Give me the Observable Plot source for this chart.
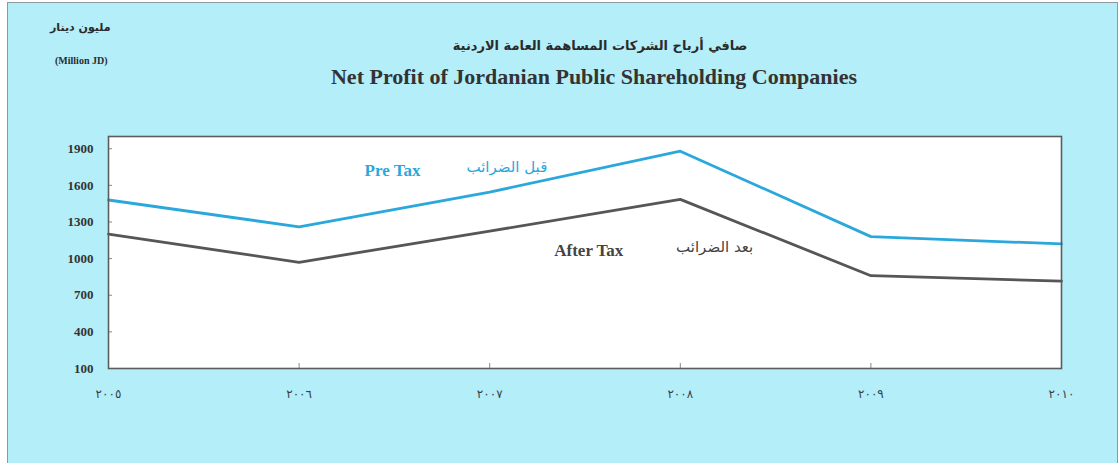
<!DOCTYPE html>
<html>
<head>
<meta charset="utf-8">
<script src="https://cdn.jsdelivr.net/npm/d3@7"></script>
<script src="https://cdn.jsdelivr.net/npm/@observablehq/plot@0.6"></script>
<style>
  html, body { margin: 0; padding: 0; background: #ffffff; overflow: hidden; }
  #wrap { position: relative; width: 1120px; height: 463px; overflow: hidden; }
  #panel { position: absolute; left: 7px; top: 2px; width: 1109px; height: 480px; background: #b4eef9; border: 1px solid #8c9a9e; }
  #chart { position: absolute; left: 0; top: 0; }
  .t { position: absolute; white-space: nowrap; color: #2b2b2b; }
  #unitAr { left: 50px; top: 21px; font: bold 11px "DejaVu Sans", sans-serif; direction: rtl; }
  #unitEn { left: 55px; top: 55px; font: bold 10px "Liberation Serif", serif; }
  #titleAr { left: 0; width: 1200px; text-align: center; top: 38px; font: bold 13px "DejaVu Sans", sans-serif; direction: rtl; }
  #titleEn { left: 0; width: 1188px; text-align: center; top: 64px; font: bold 22px "Liberation Serif", serif; color: #333; }
</style>
</head>
<body>
<div id="wrap">
  <div id="panel"></div>
  <div id="chart"></div>
  <div class="t" id="unitAr">مليون دينار</div>
  <div class="t" id="unitEn">(Million JD)</div>
  <div class="t" id="titleAr">صافي أرباح الشركات المساهمة العامة الاردنية</div>
  <div class="t" id="titleEn">Net Profit of Jordanian Public Shareholding Companies</div>
</div>
<script>
// Data
const years = [2005, 2006, 2007, 2008, 2009, 2010];
const yearLabels = ["٢٠٠٥", "٢٠٠٦", "٢٠٠٧", "٢٠٠٨", "٢٠٠٩", "٢٠١٠"];
const preTax = [1480, 1260, 1545, 1880, 1180, 1120];
const afterTax = [1200, 970, 1225, 1485, 860, 815];
const yTicks = [100, 400, 700, 1000, 1300, 1600, 1900];

// Series labels (annotation text placed in data space)
const seriesLabels = [
  {text: "Pre Tax", x: 2006.49, y: 1722, series: "pre", ar: false},
  {text: "قبل الضرائب", x: 2007.09, y: 1746, series: "pre", ar: true},
  {text: "After Tax", x: 2007.52, y: 1066, series: "after", ar: false},
  {text: "بعد الضرائب", x: 2008.18, y: 1091, series: "after", ar: true}
];

const pre = years.map((y, i) => ({year: y, value: preTax[i]}));
const after = years.map((y, i) => ({year: y, value: afterTax[i]}));
const labelOf = new Map(years.map((y, i) => [y, yearLabels[i]]));

const BLUE = "#2aa8dc";
const GRAY = "#565656";

const chart = Plot.plot({
  width: 1120,
  height: 463,
  marginLeft: 108,
  marginRight: 59,
  marginTop: 136,
  marginBottom: 95,
  style: {background: "transparent", overflow: "visible"},
  x: {type: "linear", domain: [2005, 2010]},
  y: {domain: [100, 2000]},
  marks: [
    Plot.frame({fill: "white", stroke: "none"}),
    Plot.axisY({ticks: yTicks, tickSize: 0, tickPadding: 15, tickFormat: d => String(d), fontSize: 13, fontWeight: "bold", fontFamily: "Liberation Serif", fill: "#333", label: null}),
    Plot.axisY({ticks: yTicks, tickSize: -4, tickFormat: () => "", stroke: "#888", label: null}),
    Plot.axisX({ticks: years, tickSize: 0, tickPadding: 21, tickFormat: d => labelOf.get(d), fontSize: 12, fontFamily: "DejaVu Sans", fill: "#3a3f48", label: null}),
    Plot.axisX({ticks: years, tickSize: -5, tickFormat: () => "", stroke: "#888", label: null}),
    Plot.line(pre, {x: "year", y: "value", stroke: BLUE, strokeWidth: 2.8}),
    Plot.line(after, {x: "year", y: "value", stroke: GRAY, strokeWidth: 2.8}),
    Plot.text(seriesLabels.filter(d => !d.ar), {x: "x", y: "y", text: "text", fill: d => d.series === "pre" ? BLUE : "#444", fontSize: 17, fontWeight: "bold", fontFamily: "Liberation Serif"}),
    Plot.text(seriesLabels.filter(d => d.ar), {x: "x", y: "y", text: "text", fill: d => d.series === "pre" ? BLUE : "#444", fontSize: 15, fontFamily: "DejaVu Sans"}),
    Plot.frame({stroke: "#5c5c5c", strokeWidth: 1.6})
  ]
});
document.getElementById("chart").appendChild(chart);
</script>
</body>
</html>
